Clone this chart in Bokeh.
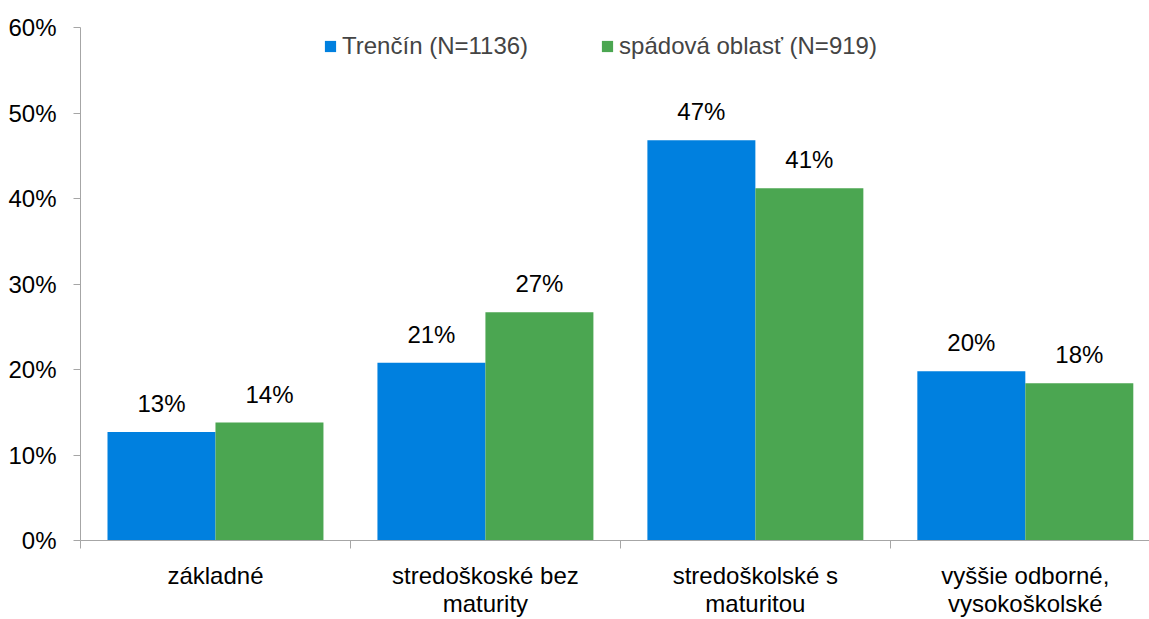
from bokeh.plotting import figure
from bokeh.models import (ColumnDataSource, Range1d, FixedTicker, PrintfTickFormatter,
                          LabelSet)
from bokeh.core.properties import value
from bokeh.transform import dodge
from bokeh.embed import file_html
from bokeh.resources import INLINE

categories = ["základné", "stredoškoské bez\nmaturity", "stredoškolské s\nmaturitou",
              "vyššie odborné,\nvysokoškolské"]
trencin = [12.7, 20.8, 46.8, 19.8]
spadova = [13.8, 26.7, 41.2, 18.4]
series_names = ["Trenčín (N=1136)", "spádová oblasť (N=919)"]
y_ticks = [0, 10, 20, 30, 40, 50, 60]

FONT = "Liberation Sans"
FS = "24px"
BLUE = "#0080DF"
GREEN = "#4BA651"
AXIS = "#A6A6A6"

centers = [i + 0.5 for i in range(len(categories))]
src = ColumnDataSource(dict(
    x=centers,
    t=trencin,
    s=spadova,
    tl=[f"{round(v)}%" for v in trencin],
    sl=[f"{round(v)}%" for v in spadova],
))

p = figure(width=1149, height=619, output_backend="svg", toolbar_location=None,
           x_range=Range1d(0, 3.96), y_range=Range1d(0, 60),
           min_border_left=80, min_border_right=0, min_border_top=27, min_border_bottom=78)
p.outline_line_color = None
p.xgrid.visible = False
p.ygrid.visible = False

p.vbar(x=dodge("x", -0.2), top="t", width=0.4, source=src, color=BLUE,
       line_color=None, legend_label=series_names[0])
p.vbar(x=dodge("x", 0.2), top="s", width=0.4, source=src, color=GREEN,
       line_color=None, legend_label=series_names[1])

for col, y, off in (("tl", "t", -0.2), ("sl", "s", 0.2)):
    p.add_layout(LabelSet(x=dodge("x", off), y=y, text=col, source=src,
                          text_align="center", text_baseline="bottom", y_offset=15,
                          text_font=value(FONT), text_font_size=value(FS),
                          text_color="#000000"))

# y axis
p.yaxis.ticker = FixedTicker(ticks=y_ticks)
p.yaxis.formatter = PrintfTickFormatter(format="%d%%")
p.yaxis.axis_line_color = AXIS
p.yaxis.major_tick_line_color = AXIS
p.yaxis.major_tick_out = 7
p.yaxis.major_tick_in = 0
p.yaxis.minor_tick_line_color = None
p.yaxis.major_label_standoff = 17
p.yaxis.major_label_text_font = FONT
p.yaxis.major_label_text_font_size = FS
p.yaxis.major_label_text_color = "#000000"

# x axis: labels at category centres, ticks at category boundaries
p.xaxis.ticker = FixedTicker(ticks=centers, minor_ticks=list(range(len(categories) + 1)))
p.xaxis.major_label_overrides = {c: lab for c, lab in zip(centers, categories)}
p.xaxis.major_label_text_font = FONT
p.xaxis.major_label_text_font_size = FS
p.xaxis.major_label_text_color = "#000000"
p.xaxis.major_label_text_line_height = 1.05
p.xaxis.major_label_standoff = 13
p.xaxis.major_tick_out = 0
p.xaxis.major_tick_in = 0
p.xaxis.minor_tick_out = 8
p.xaxis.minor_tick_in = 0
p.xaxis.minor_tick_line_color = AXIS
p.xaxis.axis_line_color = AXIS

lg = p.legend[0]
lg.orientation = "horizontal"
lg.location = (243, 480)
lg.border_line_color = None
lg.background_fill_alpha = 0
lg.label_text_font = FONT
lg.label_text_font_size = FS
lg.glyph_width = 14
lg.glyph_height = 14
lg.label_standoff = 5
lg.spacing = 72
lg.padding = 0
lg.margin = 0

open("out.html", "w").write(file_html(p, INLINE))
